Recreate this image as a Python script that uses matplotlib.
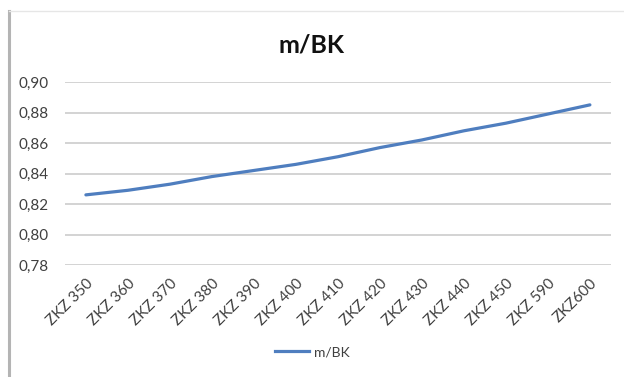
import matplotlib.pyplot as plt
from matplotlib.lines import Line2D
from matplotlib.ticker import FuncFormatter

plt.rcParams['font.family'] = ['Lato', 'DejaVu Sans']

kategorie = ['ZKZ 350', 'ZKZ 360', 'ZKZ 370', 'ZKZ 380', 'ZKZ 390', 'ZKZ 400', 'ZKZ 410',
             'ZKZ 420', 'ZKZ 430', 'ZKZ 440', 'ZKZ 450', 'ZKZ 590', 'ZKZ600']
m_bk = [0.826, 0.829, 0.833, 0.838, 0.842, 0.846, 0.851, 0.857, 0.862, 0.868, 0.873, 0.879, 0.885]
y_ticks = [0.78, 0.80, 0.82, 0.84, 0.86, 0.88, 0.90]

fig = plt.figure(figsize=(6.24, 3.77), dpi=100)
ax = fig.add_axes([0.104, 0.297, 0.875, 0.4855])

x = list(range(len(kategorie)))
ax.plot(x, m_bk, color='#4F7EBF', linewidth=2.3, solid_capstyle='round', label='m/BK')

ax.set_xlim(-0.5, len(kategorie) - 0.5)
ax.set_ylim(0.78, 0.90)
ax.set_yticks(y_ticks)
ax.yaxis.set_major_formatter(FuncFormatter(lambda v, p: f'{v:.2f}'.replace('.', ',')))
ax.set_xticks(x)
ax.set_xticklabels(kategorie, rotation=45, ha='right', rotation_mode='anchor')
ax.tick_params(axis='both', length=0, labelsize=11, colors='#404040')
ax.tick_params(axis='x', pad=8)
ax.tick_params(axis='y', pad=12)
ax.grid(axis='y', color='#cccccc', linewidth=1.2)
ax.set_axisbelow(True)
for s in ax.spines.values():
    s.set_visible(False)

fig.text(0.5, 0.88, 'm/BK', ha='center', va='center', fontsize=18, fontweight='bold', color='#111111')

fig.legend(handles=[Line2D([], [], color='#4F7EBF', linewidth=2.3)], labels=['m/BK'],
           loc='center', bbox_to_anchor=(0.5, 0.066), frameon=False, fontsize=10,
           handlelength=2.5, handletextpad=0.3, labelcolor='#404040')

# ramka wykresu
fig.add_artist(Line2D([0.014, 0.014], [0.0, 0.972], color='#b4b4b4', linewidth=2.2, transform=fig.transFigure))
fig.add_artist(Line2D([0.014, 1.0], [0.972, 0.972], color='#e6e6e6', linewidth=1, transform=fig.transFigure))

fig.savefig('out.png', dpi=100)
